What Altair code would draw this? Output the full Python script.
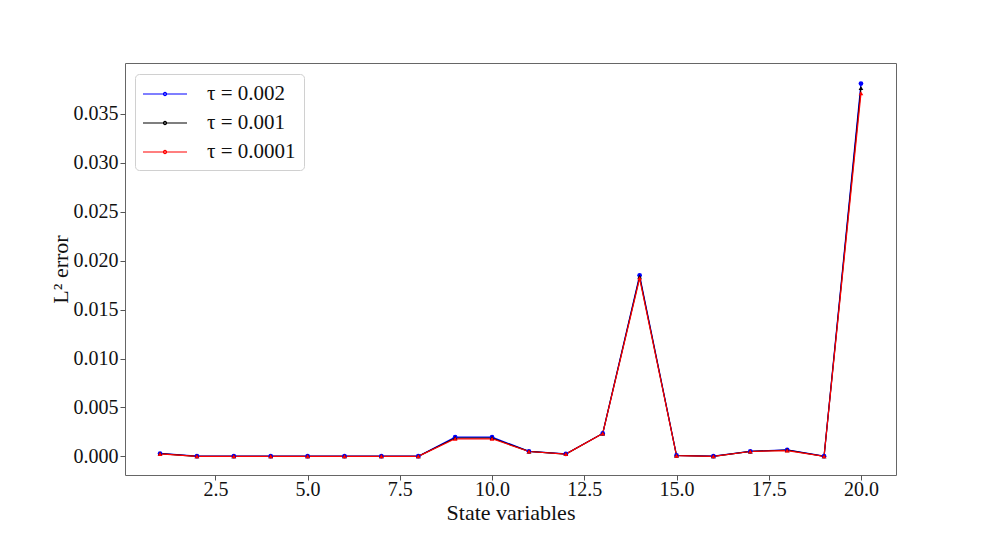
import altair as alt
import pandas as pd

x_vals = list(range(1, 21))
series_names = ["τ = 0.002", "τ = 0.001", "τ = 0.0001"]
series_colors = ["#0000ff", "#000000", "#ff0000"]
series_shapes = ["circle", "triangle-up", "triangle-up"]

tau_0002 = [0.00030, 0.00002, 0.00002, 0.00002, 0.00002, 0.00002, 0.00002, 0.00002,
            0.00197, 0.00197, 0.00052, 0.00025, 0.00235, 0.01850, 0.00010, 0.00002,
            0.00052, 0.00068, 0.00002, 0.03810]
tau_0001 = [0.00028, 0.00001, 0.00001, 0.00001, 0.00001, 0.00001, 0.00001, 0.00001,
            0.00188, 0.00188, 0.00051, 0.00024, 0.00235, 0.01835, 0.00009, 0.00001,
            0.00051, 0.00064, 0.00001, 0.03765]
tau_00001 = [0.00025, 0.00001, 0.00001, 0.00001, 0.00001, 0.00001, 0.00001, 0.00001,
             0.00180, 0.00180, 0.00050, 0.00024, 0.00234, 0.01820, 0.00008, 0.00001,
             0.00050, 0.00060, 0.00001, 0.03710]

x_ticks = [2.5, 5.0, 7.5, 10.0, 12.5, 15.0, 17.5, 20.0]
y_ticks = [0.000, 0.005, 0.010, 0.015, 0.020, 0.025, 0.030, 0.035]

rows = []
for name, vals in zip(series_names, [tau_0002, tau_0001, tau_00001]):
    for xv, yv in zip(x_vals, vals):
        rows.append({"x": xv, "y": yv, "series": name})
df = pd.DataFrame(rows)

FONT = "Liberation Serif"
legend_path = ("M-2,0L2,0M0,-0.14A0.14,0.14 0 1,1 0,0.14A0.14,0.14 0 1,1 0,-0.14")

xenc = alt.X("x:Q", scale=alt.Scale(domain=[0.05, 20.95], nice=False, zero=False),
             axis=alt.Axis(values=x_ticks, format=".1f", title="State variables"))
yenc = alt.Y("y:Q", scale=alt.Scale(domain=[-0.0019, 0.0402], nice=False, zero=False),
             axis=alt.Axis(values=y_ticks, format=".3f", title="L² error"))
color = alt.Color("series:N",
                  scale=alt.Scale(domain=series_names, range=series_colors),
                  legend=alt.Legend(title=None, symbolType=legend_path, symbolSize=484,
                                    symbolStrokeWidth=1.2, symbolOpacity=1, orient="none",
                                    legendX=10, legendY=11))

base = alt.Chart(df)
layers = [base.mark_line(strokeWidth=1.2).encode(x=xenc, y=yenc, color=color, detail="series:N")]
for name, col, shp in zip(series_names, series_colors, series_shapes):
    layers.append(
        base.transform_filter(alt.datum.series == name)
        .mark_point(filled=True, size=22, opacity=1, strokeWidth=0, shape=shp, fill=col)
        .encode(x=xenc, y=yenc)
    )

chart = alt.layer(*layers).properties(
    width=771, height=412,
    autosize=alt.AutoSizeParams(type="none"),
    padding={"left": 117, "top": 55, "right": 80, "bottom": 60},
).configure_view(stroke="#666666", strokeWidth=1
).configure_axis(
    grid=False, domain=False, tickColor="#555555", tickSize=5, tickWidth=1,
    labelFont=FONT, labelFontSize=20, labelColor="#111111", labelPadding=2,
    titleFont=FONT, titleFontSize=22, titleFontWeight="normal", titleColor="#111111",
).configure_axisX(labelPadding=-1, titlePadding=3
).configure_axisY(titlePadding=1
).configure_legend(
    labelFont=FONT, labelFontSize=21, labelColor="#111111",
    strokeColor="#d0d0d0", fillColor="white", cornerRadius=4, padding=8,
    rowPadding=7, labelOffset=30, symbolOffset=10,
)

chart.save("out.html", embed_options={"renderer": "svg", "actions": False})
